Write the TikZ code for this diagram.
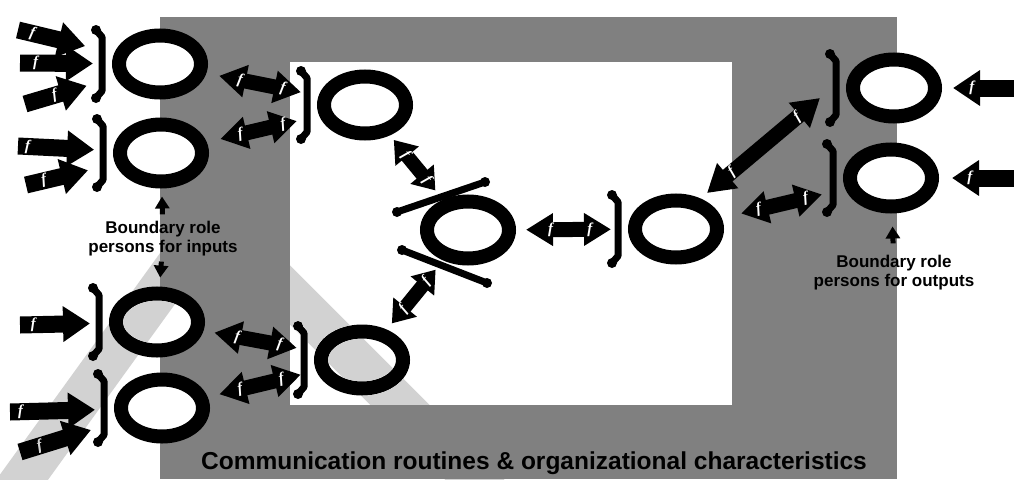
\documentclass[tikz,border=0pt]{standalone}
\usepackage{fontspec}
\setmainfont{Liberation Sans}
\newfontfamily\ffont{Liberation Serif}
\usetikzlibrary{arrows.meta, shapes.geometric}

\definecolor{bggray}{RGB}{128,128,128}

\begin{document}
\begin{tikzpicture}[
    x=1pt, y=-1pt,
    person/.style={ellipse, draw=black, fill=white, line width=14pt, minimum width=82pt, minimum height=57pt, inner sep=0pt},
    brk/.style={line width=7pt, line cap=round, line join=round},
    fatin/.style={line width=17pt, -{Triangle[width=34pt,length=27pt]}, shorten >=19pt},
    fatdbl/.style={line width=15pt, {Triangle[width=31pt,length=27pt]}-{Triangle[width=31pt,length=27pt]}, shorten <=12pt, shorten >=18pt},
    fatshort/.style={line width=14pt, {Triangle[width=29pt,length=21pt]}-{Triangle[width=29pt,length=21pt]}},
    lblarr/.style={line width=5pt, -{Triangle[width=14pt,length=12pt]}},
    flab/.style={text=white, font=\ffont\bfseries\itshape\fontsize{15}{15}\selectfont, inner sep=0pt, sloped},
    lbl/.style={font=\bfseries\fontsize{17}{19}\selectfont, align=center, inner sep=0pt}
]
\useasboundingbox (0,0) rectangle (1014,479);
\clip (0,0) rectangle (1014,479);

% ---------- Backgrounds ----------
\fill[bggray] (160,17) rectangle (897,479);
\fill[white] (290,62) rectangle (732,405);

% ---------- Persons ----------
\node[person] (P1) at (160,64) {};
\node[person] (P2) at (161,153) {};
\node[person] (P3) at (157,322) {};
\node[person] (P4) at (162,408) {};

\node[person] (M1) at (365,105) {};
\node[person] (M2) at (362,360) {};
\node[person] (C) at (468,230) {};
\node[person] (R1) at (676,229) {};

\node[person] (T1) at (894,88) {};
\node[person] (T2) at (891,178) {};

% brackets
\foreach \p in {P1,P2,P3,P4,M1,M2,R1,T1,T2} {
    \draw[brk] ([shift={(-16,-34)}]\p.west) -- ([shift={(-10,-27)}]\p.west)
        -- ([shift={(-10,27)}]\p.west) -- ([shift={(-16,34)}]\p.west);
    \fill ([shift={(-16,-34)}]\p.west) circle (5);
    \fill ([shift={(-16,34)}]\p.west) circle (5);
}

% crossed arms of the centre person
\draw[brk] ([shift={(-71,-18)}]C.center) -- ([shift={(17,-48)}]C.center);
\draw[brk] ([shift={(-66,20)}]C.center) -- ([shift={(19,53)}]C.center);
\foreach \s in {(-71,-18),(17,-48),(-66,20),(19,53)}
    \fill ([shift={\s}]C.center) circle (5);

% ---------- Inputs ----------
\coordinate (in1) at (18,30);
\coordinate (in2) at (20,63);
\coordinate (in3) at (25,104);
\coordinate (in4) at (18,146);
\coordinate (in5) at (26,185);
\coordinate (in6) at (20,325);
\coordinate (in7) at (10,412);
\coordinate (in8) at (20,452);
\coordinate (in9) at (1025,88);
\coordinate (in10) at (1025,178);

\draw[fatin, shorten >=30pt] (in1) -- (P1) node[flab, pos=0.15] {f};
\draw[fatin] (in2) -- (P1) node[flab, pos=0.17] {f};
\draw[fatin, shorten >=30pt] (in3) -- (P1) node[flab, pos=0.33] {f};
\draw[fatin] (in4) -- (P2) node[flab, pos=0.1] {f};
\draw[fatin, shorten >=28pt] (in5) -- (P2) node[flab, pos=0.2] {f};
\draw[fatin] (in6) -- (P3) node[flab, pos=0.15] {f};
\draw[fatin] (in7) -- (P4) node[flab, pos=0.1] {f};
\draw[fatin, shorten >=28pt] (in8) -- (P4) node[flab, pos=0.2] {f};
\draw[fatin, shorten >=11pt] (in9) -- (T1) node[flab, pos=0.64] {f};
\draw[fatin, shorten >=13pt] (in10) -- (T2) node[flab, pos=0.64] {f};

% ---------- Links ----------
\draw[fatdbl, shorten <=13pt] (P1) -- (M1) node[flab, pos=0.3] {f} node[flab, pos=0.68] {f};
\draw[fatdbl, shorten <=14pt, shorten >=23pt] (P2) -- (M1) node[flab, pos=0.3] {f} node[flab, pos=0.68] {f};
\draw[fatdbl, shorten <=11pt, shorten >=19pt] (P3) -- (M2) node[flab, pos=0.3] {f} node[flab, pos=0.68] {f};
\draw[fatdbl, shorten >=16pt] (P4) -- (M2) node[flab, pos=0.3] {f} node[flab, pos=0.68] {f};
\draw[fatshort, shorten <=6pt, shorten >=12pt] (M1) -- (C) node[flab, pos=0.3] {f} node[flab, pos=0.7] {f};
\draw[fatshort, shorten <=8pt, shorten >=12pt] (M2) -- (C) node[flab, pos=0.3] {f} node[flab, pos=0.7] {f};
\draw[fatdbl, shorten <=10pt, shorten >=17pt] (C) -- (R1) node[flab, pos=0.31] {f} node[flab, pos=0.66] {f};
\draw[fatdbl, shorten <=0pt, shorten >=0pt] ([shift={(31,-36)}]R1.center) -- ([shift={(-26,10)}]T1.west)
    node[flab, pos=0.22] {f} node[flab, pos=0.8] {f};
\draw[fatdbl, shorten <=20pt, shorten >=24pt] (R1) -- (T2) node[flab, pos=0.3] {f} node[flab, pos=0.68] {f};

% ---------- Labels ----------
\node[lbl] (lblIn) at (163,239) {Boundary role\\persons for inputs};
\node[lbl] (lblOut) at (894,273) {Boundary role\\persons for outputs};
\draw[lblarr, shorten <=7pt, shorten >=8pt] (lblIn) -- (P2);
\draw[lblarr, shorten <=5pt, shorten >=9pt] (lblIn) -- (P3);
\draw[lblarr, shorten <=12pt, shorten >=13pt] (lblOut) -- (T2);

\node[anchor=base, font=\bfseries\fontsize{24.5}{28}\selectfont] (title) at (534,469)
    {Communication routines \& organizational characteristics};

% watermark band
\begin{scope}[blend mode=darken]
    \draw[draw=gray!35, line width=42pt] (-25,545) -- (212,217) -- (550,555);
\end{scope}

\end{tikzpicture}
\end{document}
